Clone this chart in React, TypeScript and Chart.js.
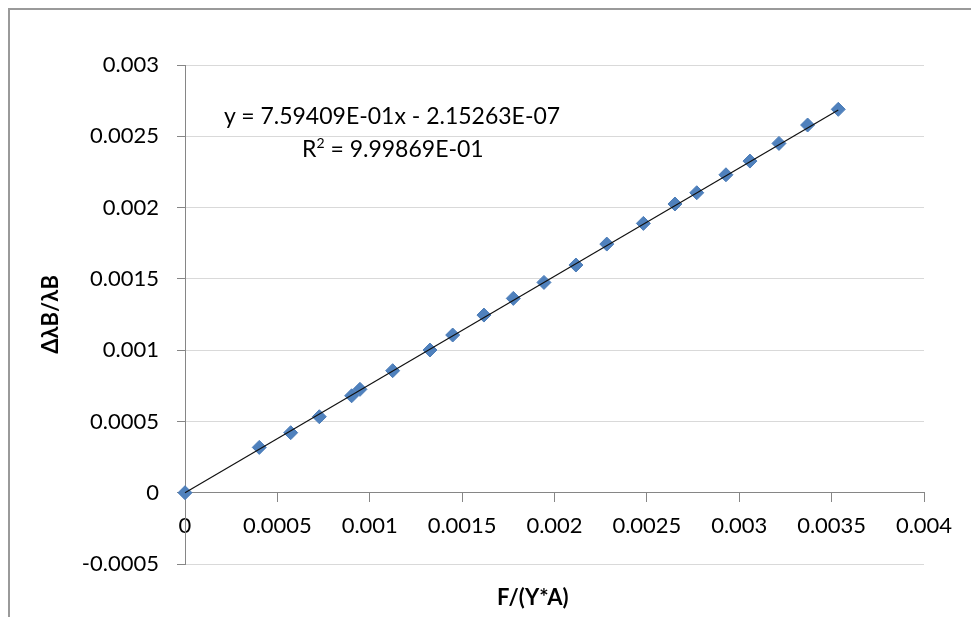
import React, { useEffect, useRef } from "react";
import { Chart, registerables } from "chart.js";

Chart.register(...registerables);

// Measured data: F/(Y*A) vs Δλ_B/λ_B
const xValues = [
  0, 0.000402, 0.000572, 0.000727, 0.000902, 0.000947, 0.001124, 0.001326,
  0.001449, 0.001618, 0.001777, 0.001943, 0.002116, 0.002283, 0.002481,
  0.002652, 0.00277, 0.002928, 0.003058, 0.003215, 0.00337, 0.003536,
];
const yValues = [
  0, 0.000318, 0.000421, 0.000533, 0.00068, 0.000725, 0.000856, 0.001001,
  0.001106, 0.001246, 0.001363, 0.001475, 0.001597, 0.001744, 0.001889,
  0.002025, 0.002104, 0.00223, 0.002326, 0.00245, 0.002579, 0.002689,
];

// Trendline as printed on the chart
const slope = 0.759409;
const intercept = -2.15263e-7;
const equationText = "y = 7.59409E-01x - 2.15263E-07";
const r2Text = "9.99869E-01";

// Axes
const xMin = 0;
const xMax = 0.004;
const xStep = 0.0005;
const yMin = -0.0005;
const yMax = 0.003;
const yStep = 0.0005;
const xTitle = "F/(Y*A)";
const yTitle = "ΔλB/λB";

const FONT = "Lato, 'Open Sans', sans-serif";
const fmt = (v: number | string) => String(parseFloat(Number(v).toFixed(6)));

export default function App() {
  const ref = useRef<HTMLCanvasElement>(null);

  useEffect(() => {
    const points = xValues.map((x, i) => ({ x, y: yValues[i] }));
    const xEnd = Math.max(...xValues);
    const trend = [
      { x: 0, y: intercept },
      { x: xEnd, y: slope * xEnd + intercept },
    ];
    const chart = new Chart(ref.current as HTMLCanvasElement, {
      type: "scatter",
      data: {
        datasets: [
          {
            type: "line",
            data: trend,
            borderColor: "#111",
            borderWidth: 1.2,
            pointRadius: 0,
            fill: false,
            order: 0,
            clip: false,
          } as any,
          {
            data: points,
            pointStyle: "rectRot",
            pointRadius: 7,
            pointHoverRadius: 7,
            backgroundColor: "#4F81BD",
            borderColor: "#4A7BB7",
            borderWidth: 1,
            order: 1,
            clip: false,
          } as any,
        ],
      },
      options: {
        animation: false,
        responsive: false,
        devicePixelRatio: 1,
        layout: { padding: { left: 0, top: 65, right: 47, bottom: 53 } },
        plugins: {
          legend: { display: false },
          tooltip: { enabled: false },
        },
        scales: {
          x: {
            type: "linear",
            position: { y: 0 } as any,
            min: xMin,
            max: xMax,
            ticks: {
              stepSize: xStep,
              callback: (v: any) => fmt(v),
              padding: 11,
              font: { family: FONT, size: 22 },
              color: "#000",
              maxRotation: 0,
              autoSkip: false,
            },
            grid: {
              drawOnChartArea: false,
              color: "#868686",
              tickLength: 9,
            },
            border: { color: "#868686", width: 1 },
            afterFit: (s: any) => {
              s.height = 0;
            },
          },
          y: {
            type: "linear",
            position: "left",
            min: yMin,
            max: yMax,
            ticks: {
              stepSize: yStep,
              callback: (v: any) => fmt(v),
              padding: 18,
              font: { family: FONT, size: 22 },
              color: "#000",
              autoSkip: false,
            },
            grid: {
              color: (c: any) => (c.tick && c.tick.value === 0 ? "#868686" : "#D9D9D9"),
              tickColor: "#868686",
              tickLength: 8,
              z: -1,
            },
            border: { color: "#868686", width: 1 },
            title: {
              display: true,
              text: yTitle,
              font: { family: FONT, size: 22, weight: "bold" },
              color: "#000",
              padding: { top: 38, bottom: 0 },
            },
            afterFit: (s: any) => {
              s.width = 185;
            },
          },
        },
      },
    });
    return () => chart.destroy();
  }, []);

  return (
    <div
      style={{
        position: "fixed",
        left: 0,
        top: 0,
        width: 971,
        height: 617,
        overflow: "hidden",
        background: "#fff",
        fontFamily: FONT,
        color: "#000",
      }}
    >
      <div
        style={{
          position: "absolute",
          left: 8,
          top: 8,
          width: 980,
          height: 620,
          borderLeft: "2px solid #9a9a9a",
          borderTop: "2px solid #9a9a9a",
        }}
      />
      <canvas
        ref={ref}
        width={971}
        height={617}
        style={{ position: "absolute", left: 0, top: 0, width: 971, height: 617 }}
      />
      <div
        style={{
          position: "absolute",
          left: 224,
          top: 104,
          fontSize: 23,
          lineHeight: "23px",
          whiteSpace: "nowrap",
        }}
      >
        {equationText}
      </div>
      <div
        style={{
          position: "absolute",
          left: 302,
          top: 137,
          fontSize: 23,
          lineHeight: "23px",
          whiteSpace: "nowrap",
        }}
      >
        R
        <span style={{ fontSize: 14, position: "relative", top: -9 }}>2</span>
        {" = " + r2Text}
      </div>
      <div
        style={{
          position: "absolute",
          left: 497,
          top: 586,
          fontSize: 22,
          fontWeight: "bold",
          lineHeight: "22px",
          whiteSpace: "nowrap",
        }}
      >
        {xTitle}
      </div>
    </div>
  );
}
